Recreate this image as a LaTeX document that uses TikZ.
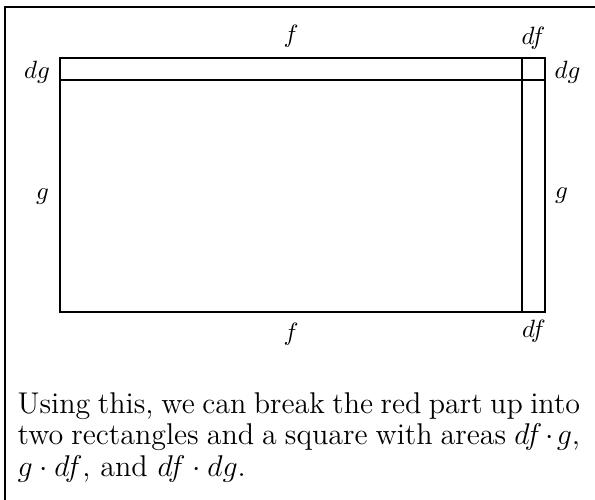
\documentclass[tikz,border=0pt]{standalone}
\usepackage{amsmath}
\usepackage{amssymb}
\usetikzlibrary{positioning}

\begin{document}
\begin{tikzpicture}[x=0.4pt, y=-0.4pt, line width=0.5pt]
    \useasboundingbox (0,0) rectangle (595,500);

    % Frame
    \coordinate (fb) at (5,500);
    \coordinate (fc) at (5,7);
    \coordinate (fr) at (595,7);
    \draw (fb) -- (fc) -- (fr);

    % Rectangles
    \coordinate (nw) at (60,58);
    \coordinate (se) at (545,312);
    \coordinate (hl) at (60,80);
    \coordinate (hr) at (545,80);
    \coordinate (vt) at (522,58);
    \coordinate (vb) at (522,312);
    \draw (nw) rectangle (se);
    \draw (hl) -- (hr);
    \draw (vt) -- (vb);

    % Labels top and bottom
    \node (ftop) at (291,36) {$f$};
    \node (dftop) at (533.5,38.5) {$df$};
    \node (fbot) at (291,334) {$f$};
    \node (dfbot) at (534,331) {$df$};

    % Labels left and right
    \node (dgleft) at (37,72) {$dg$};
    \node (dgright) at (567.5,72) {$dg$};
    \node (gleft) at (42.5,196.5) {$g$};
    \node (gright) at (561.5,196) {$g$};

    % Caption
    \node (text) [anchor=north west, inner sep=0pt, text width=225pt, align=justify,
        font=\fontsize{12}{12.6}\selectfont]
        at (17,392)
        {Using this, we can break the red part up into two rectangles and a square with areas $df\cdot g$, $g\cdot df$, and $df\cdot dg$.};
\end{tikzpicture}
\end{document}
